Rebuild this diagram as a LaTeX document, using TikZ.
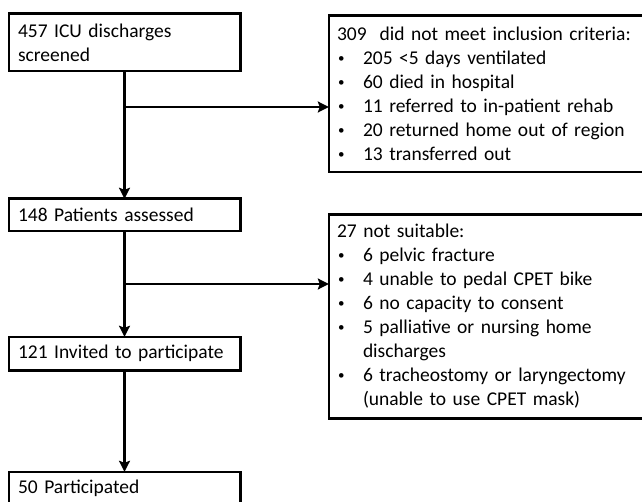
\documentclass[tikz,border=0pt]{standalone}
\usepackage{fontspec}
\setmainfont{Carlito}
\usepackage{tikz}
\usetikzlibrary{arrows.meta,positioning,calc}
\tikzset{
  stagebox/.style={align=left,font=\fontsize{19.5}{24}\selectfont,inner ysep=0pt},
  leftbox/.style={stagebox,inner xsep=9pt,text width=213pt},
  exclbox/.style={stagebox,inner xsep=8pt,text width=314pt},
  frame/.style={draw=black,line width=2.6pt},
  flow/.style={-{Stealth[length=11pt,width=11pt,inset=2pt]},line width=2.6pt,draw=black},
}
\newcommand{\bul}{\makebox[26pt][l]{\hspace{1pt}\raisebox{2pt}{\fontsize{13}{13}\selectfont\textbullet}}}
\newcommand{\ind}{\hspace*{26pt}}

\begin{document}
\begin{tikzpicture}[x=1pt,y=-1pt]
  \useasboundingbox (0,0) rectangle (642,502);
  \clip (0,0) rectangle (642,502);
  \node[leftbox,minimum height=57pt] (screen) at (124.5,42.5) {457 ICU discharges\\screened};
  \node[leftbox,minimum height=32pt] (assess) at (124.5,215) {148 Patients assessed};
  \node[leftbox,minimum height=33pt] (invite) at (124.5,353.5) {121 Invited to participate};
  \node[leftbox,minimum height=33pt] (part) at (124.5,488.5) {50 Participated};
  \node[exclbox,minimum height=156pt] (excl1) at (494,94) {309\ \ did not meet inclusion criteria:\\
    \bul 205 <5 days ventilated\\ \bul 60 died in hospital\\ \bul 11 referred to in-patient rehab\\
    \bul 20 returned home out of region\\ \bul 13 transferred out};
  \node[exclbox,minimum height=203pt] (excl2) at (494,316.5) {27 not suitable:\\
    \bul 6 pelvic fracture\\ \bul 4 unable to pedal CPET bike\\ \bul 6 no capacity to consent\\
    \bul 5 palliative or nursing home\\ \ind discharges\\ \bul 6 tracheostomy or laryngectomy\\
    \ind (unable to use CPET mask)};
  \foreach \n in {screen,assess,invite,part,excl1,excl2}
    \draw[frame] (\n.south west) rectangle (\n.north east);
  \coordinate (br1) at (screen.south |- 0,107);
  \coordinate (br2) at (assess.south |- 0,284);
  \draw[flow] (screen) -- (assess);
  \draw[flow] (assess) -- (invite);
  \draw[flow] (invite) -- (part);
  \draw[flow] (br1) -- (br1 -| excl1.west);
  \draw[flow] (br2) -- (br2 -| excl2.west);
\end{tikzpicture}
\end{document}
